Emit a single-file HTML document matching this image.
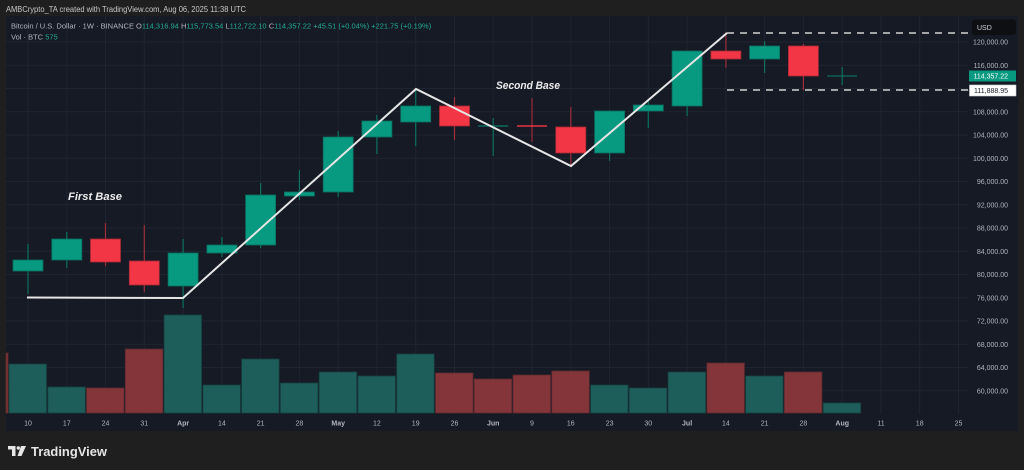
<!DOCTYPE html>
<html><head><meta charset="utf-8"><style>
html,body{margin:0;padding:0;background:#1f1f1f;}
svg{display:block;}
text{font-family:"Liberation Sans",sans-serif;}
</style></head><body>
<svg width="1024" height="470" viewBox="0 0 1024 470" xmlns="http://www.w3.org/2000/svg">
<rect x="0" y="0" width="1024" height="470" fill="#1f1f1f"/>
<text x="6" y="12" font-size="8" fill="#c8c8c8" textLength="240" lengthAdjust="spacingAndGlyphs">AMBCrypto_TA created with TradingView.com, Aug 06, 2025 11:38 UTC</text>
<rect x="6" y="16" width="1012" height="415" fill="#161a25"/>
<g stroke="#1f2431" stroke-width="1">
<line x1="6" y1="42" x2="968" y2="42"/><line x1="6" y1="65.25" x2="968" y2="65.25"/><line x1="6" y1="88.5" x2="968" y2="88.5"/><line x1="6" y1="111.75" x2="968" y2="111.75"/><line x1="6" y1="135" x2="968" y2="135"/><line x1="6" y1="158.25" x2="968" y2="158.25"/><line x1="6" y1="181.5" x2="968" y2="181.5"/><line x1="6" y1="204.75" x2="968" y2="204.75"/><line x1="6" y1="228" x2="968" y2="228"/><line x1="6" y1="251.25" x2="968" y2="251.25"/><line x1="6" y1="274.5" x2="968" y2="274.5"/><line x1="6" y1="297.75" x2="968" y2="297.75"/><line x1="6" y1="321" x2="968" y2="321"/><line x1="6" y1="344.25" x2="968" y2="344.25"/><line x1="6" y1="367.5" x2="968" y2="367.5"/><line x1="6" y1="390.75" x2="968" y2="390.75"/>
<line x1="28" y1="16" x2="28" y2="414"/><line x1="66.8" y1="16" x2="66.8" y2="414"/><line x1="105.5" y1="16" x2="105.5" y2="414"/><line x1="144.3" y1="16" x2="144.3" y2="414"/><line x1="183.1" y1="16" x2="183.1" y2="414"/><line x1="221.9" y1="16" x2="221.9" y2="414"/><line x1="260.6" y1="16" x2="260.6" y2="414"/><line x1="299.4" y1="16" x2="299.4" y2="414"/><line x1="338.2" y1="16" x2="338.2" y2="414"/><line x1="376.9" y1="16" x2="376.9" y2="414"/><line x1="415.7" y1="16" x2="415.7" y2="414"/><line x1="454.5" y1="16" x2="454.5" y2="414"/><line x1="493.2" y1="16" x2="493.2" y2="414"/><line x1="532" y1="16" x2="532" y2="414"/><line x1="570.8" y1="16" x2="570.8" y2="414"/><line x1="609.6" y1="16" x2="609.6" y2="414"/><line x1="648.3" y1="16" x2="648.3" y2="414"/><line x1="687.1" y1="16" x2="687.1" y2="414"/><line x1="725.9" y1="16" x2="725.9" y2="414"/><line x1="764.6" y1="16" x2="764.6" y2="414"/><line x1="803.4" y1="16" x2="803.4" y2="414"/><line x1="842.2" y1="16" x2="842.2" y2="414"/><line x1="881" y1="16" x2="881" y2="414"/><line x1="919.7" y1="16" x2="919.7" y2="414"/><line x1="958.5" y1="16" x2="958.5" y2="414"/>
</g>
<!-- volume -->
<g stroke-width="0.8">
<rect x="6" y="353" width="2" height="60" fill="#843539" stroke="#5c2a2e"/>
<rect x="9" y="364" width="37.5" height="49" fill="#1d5e5b" stroke="#15403f"/>
<rect x="47.8" y="387" width="37.5" height="26" fill="#1d5e5b" stroke="#15403f"/>
<rect x="86.5" y="388" width="37.5" height="25" fill="#843539" stroke="#5c2a2e"/>
<rect x="125.3" y="349" width="37.5" height="64" fill="#843539" stroke="#5c2a2e"/>
<rect x="164.1" y="315" width="37.5" height="98" fill="#1d5e5b" stroke="#15403f"/>
<rect x="202.9" y="385" width="37.5" height="28" fill="#1d5e5b" stroke="#15403f"/>
<rect x="241.6" y="359" width="37.5" height="54" fill="#1d5e5b" stroke="#15403f"/>
<rect x="280.4" y="383" width="37.5" height="30" fill="#1d5e5b" stroke="#15403f"/>
<rect x="319.2" y="372" width="37.5" height="41" fill="#1d5e5b" stroke="#15403f"/>
<rect x="357.9" y="376" width="37.5" height="37" fill="#1d5e5b" stroke="#15403f"/>
<rect x="396.7" y="354" width="37.5" height="59" fill="#1d5e5b" stroke="#15403f"/>
<rect x="435.5" y="373" width="37.5" height="40" fill="#843539" stroke="#5c2a2e"/>
<rect x="474.2" y="379" width="37.5" height="34" fill="#843539" stroke="#5c2a2e"/>
<rect x="513" y="375" width="37.5" height="38" fill="#843539" stroke="#5c2a2e"/>
<rect x="551.8" y="371" width="37.5" height="42" fill="#843539" stroke="#5c2a2e"/>
<rect x="590.6" y="385" width="37.5" height="28" fill="#1d5e5b" stroke="#15403f"/>
<rect x="629.3" y="388" width="37.5" height="25" fill="#1d5e5b" stroke="#15403f"/>
<rect x="668.1" y="372" width="37.5" height="41" fill="#1d5e5b" stroke="#15403f"/>
<rect x="706.9" y="363" width="37.5" height="50" fill="#843539" stroke="#5c2a2e"/>
<rect x="745.6" y="376" width="37.5" height="37" fill="#1d5e5b" stroke="#15403f"/>
<rect x="784.4" y="372" width="37.5" height="41" fill="#843539" stroke="#5c2a2e"/>
<rect x="823.2" y="403" width="37.5" height="10" fill="#1d5e5b" stroke="#15403f"/>
</g>
<!-- wicks -->
<g stroke-width="1.2">
<line x1="28" y1="244" x2="28" y2="294" stroke="#0c6f5f"/>
<line x1="66.8" y1="232" x2="66.8" y2="268" stroke="#0c6f5f"/>
<line x1="105.5" y1="223" x2="105.5" y2="266" stroke="#9e2d39"/>
<line x1="144.3" y1="225" x2="144.3" y2="292" stroke="#9e2d39"/>
<line x1="183.1" y1="239" x2="183.1" y2="308" stroke="#0c6f5f"/>
<line x1="221.9" y1="237" x2="221.9" y2="257" stroke="#0c6f5f"/>
<line x1="260.6" y1="183" x2="260.6" y2="248" stroke="#0c6f5f"/>
<line x1="299.4" y1="170" x2="299.4" y2="200" stroke="#0c6f5f"/>
<line x1="338.2" y1="131" x2="338.2" y2="197" stroke="#0c6f5f"/>
<line x1="376.9" y1="115" x2="376.9" y2="154" stroke="#0c6f5f"/>
<line x1="415.7" y1="88" x2="415.7" y2="146" stroke="#0c6f5f"/>
<line x1="454.5" y1="97" x2="454.5" y2="140" stroke="#9e2d39"/>
<line x1="493.2" y1="118" x2="493.2" y2="156" stroke="#0c6f5f"/>
<line x1="532" y1="98" x2="532" y2="142" stroke="#9e2d39"/>
<line x1="570.8" y1="107" x2="570.8" y2="167" stroke="#9e2d39"/>
<line x1="609.6" y1="111" x2="609.6" y2="161" stroke="#0c6f5f"/>
<line x1="648.3" y1="99" x2="648.3" y2="128" stroke="#0c6f5f"/>
<line x1="687.1" y1="51" x2="687.1" y2="116" stroke="#0c6f5f"/>
<line x1="725.9" y1="32" x2="725.9" y2="68" stroke="#9e2d39"/>
<line x1="764.6" y1="41" x2="764.6" y2="73" stroke="#0c6f5f"/>
<line x1="803.4" y1="44" x2="803.4" y2="90" stroke="#9e2d39"/>
<line x1="842.2" y1="67" x2="842.2" y2="85" stroke="#0c6f5f"/>
</g>
<!-- bodies -->
<g stroke-width="0.8">
<rect x="13" y="260" width="30" height="11" fill="#089981" stroke="#0a6f60"/>
<rect x="51.8" y="239" width="30" height="21" fill="#089981" stroke="#0a6f60"/>
<rect x="90.5" y="239" width="30" height="23" fill="#f23645" stroke="#a62b36"/>
<rect x="129.3" y="261" width="30" height="24" fill="#f23645" stroke="#a62b36"/>
<rect x="168.1" y="253" width="30" height="33" fill="#089981" stroke="#0a6f60"/>
<rect x="206.9" y="245" width="30" height="8" fill="#089981" stroke="#0a6f60"/>
<rect x="245.6" y="195" width="30" height="50" fill="#089981" stroke="#0a6f60"/>
<rect x="284.4" y="192" width="30" height="4" fill="#089981" stroke="#0a6f60"/>
<rect x="323.2" y="137" width="30" height="55" fill="#089981" stroke="#0a6f60"/>
<rect x="361.9" y="121" width="30" height="16" fill="#089981" stroke="#0a6f60"/>
<rect x="400.7" y="106" width="30" height="16" fill="#089981" stroke="#0a6f60"/>
<rect x="439.5" y="106" width="30" height="20" fill="#f23645" stroke="#a62b36"/>
<rect x="478.2" y="125.3" width="30" height="1.4" fill="#0c6f5f"/>
<rect x="517" y="125.3" width="30" height="1.4" fill="#f23645"/>
<rect x="555.8" y="127" width="30" height="26" fill="#f23645" stroke="#a62b36"/>
<rect x="594.6" y="111" width="30" height="42" fill="#089981" stroke="#0a6f60"/>
<rect x="633.3" y="105" width="30" height="6" fill="#089981" stroke="#0a6f60"/>
<rect x="672.1" y="51" width="30" height="55" fill="#089981" stroke="#0a6f60"/>
<rect x="710.9" y="51" width="30" height="8" fill="#f23645" stroke="#a62b36"/>
<rect x="749.6" y="46" width="30" height="13" fill="#089981" stroke="#0a6f60"/>
<rect x="788.4" y="46" width="30" height="30" fill="#f23645" stroke="#a62b36"/>
<rect x="827.2" y="75.4" width="30" height="1.2" fill="#0c6f5f"/>
</g>
<!-- annotations -->
<polyline points="27,297.5 183,298 416,89 571,166 727,33" fill="none" stroke="#e6e6e6" stroke-width="2" stroke-linejoin="miter"/>
<line x1="727" y1="33" x2="968" y2="33" stroke="#d2d2d2" stroke-width="1.5" stroke-dasharray="7 6"/>
<line x1="727" y1="90" x2="968" y2="90" stroke="#d2d2d2" stroke-width="1.5" stroke-dasharray="7 6"/>
<text x="68" y="200" font-size="11" font-weight="bold" font-style="italic" fill="#ececec" textLength="54" lengthAdjust="spacingAndGlyphs">First Base</text>
<text x="496" y="89" font-size="11" font-weight="bold" font-style="italic" fill="#ececec" textLength="64" lengthAdjust="spacingAndGlyphs">Second Base</text>
<!-- legend -->
<text x="11" y="28.7" font-size="7.5" fill="#b2b5be">Bitcoin / U.S. Dollar · 1W · BINANCE <tspan fill="#b2b5be">O</tspan><tspan fill="#22ab94">114,316.94 </tspan><tspan fill="#b2b5be">H</tspan><tspan fill="#22ab94">115,773.54 </tspan><tspan fill="#b2b5be">L</tspan><tspan fill="#22ab94">112,722.10 </tspan><tspan fill="#b2b5be">C</tspan><tspan fill="#22ab94">114,357.22 +45.51 (+0.04%) +221.75 (+0.19%)</tspan></text>
<text x="11" y="39.7" font-size="7.5" fill="#b2b5be">Vol · BTC <tspan fill="#22ab94">575</tspan></text>
<!-- price axis -->
<g font-size="7" fill="#b2b5be" text-anchor="end">
<text x="1008" y="44.5">120,000.00</text><text x="1008" y="67.8">116,000.00</text><text x="1008" y="114.3">108,000.00</text><text x="1008" y="137.5">104,000.00</text><text x="1008" y="160.8">100,000.00</text><text x="1008" y="184">96,000.00</text><text x="1008" y="207.3">92,000.00</text><text x="1008" y="230.5">88,000.00</text><text x="1008" y="253.8">84,000.00</text><text x="1008" y="277">80,000.00</text><text x="1008" y="300.3">76,000.00</text><text x="1008" y="323.5">72,000.00</text><text x="1008" y="346.8">68,000.00</text><text x="1008" y="370">64,000.00</text><text x="1008" y="393.3">60,000.00</text>
</g>
<rect x="972" y="19.5" width="44" height="15.5" rx="3" fill="#0e0f13"/>
<text x="977" y="30" font-size="7" fill="#d1d4dc">USD</text>
<rect x="969" y="70.5" width="47" height="11" fill="#089981"/>
<text x="1008" y="78.6" font-size="7" fill="#ffffff" text-anchor="end">114,357.22</text>
<rect x="969.5" y="85" width="46.5" height="11" fill="#ffffff" stroke="#cfcfcf" stroke-width="0.6"/>
<text x="1008" y="93.1" font-size="7" fill="#131722" text-anchor="end">111,888.95</text>
<!-- time axis -->
<g font-size="7" fill="#b2b5be" text-anchor="middle">
<text x="28" y="425.5">10</text><text x="66.8" y="425.5">17</text><text x="105.5" y="425.5">24</text><text x="144.3" y="425.5">31</text><text x="183.1" y="425.5" font-weight="bold">Apr</text><text x="221.9" y="425.5">14</text><text x="260.6" y="425.5">21</text><text x="299.4" y="425.5">28</text><text x="338.2" y="425.5" font-weight="bold">May</text><text x="376.9" y="425.5">12</text><text x="415.7" y="425.5">19</text><text x="454.5" y="425.5">26</text><text x="493.2" y="425.5" font-weight="bold">Jun</text><text x="532" y="425.5">9</text><text x="570.8" y="425.5">16</text><text x="609.6" y="425.5">23</text><text x="648.3" y="425.5">30</text><text x="687.1" y="425.5" font-weight="bold">Jul</text><text x="725.9" y="425.5">14</text><text x="764.6" y="425.5">21</text><text x="803.4" y="425.5">28</text><text x="842.2" y="425.5" font-weight="bold">Aug</text><text x="881" y="425.5">11</text><text x="919.7" y="425.5">18</text><text x="958.5" y="425.5">25</text>
</g>
<!-- TradingView logo -->
<g fill="#e6e6e6">
<path d="M8 446 H15.5 V456 H12 V449.5 H8 Z"/>
<circle cx="18.3" cy="448" r="1.7"/>
<path d="M21 446 H26 L21.5 456 H17.5 Z"/>
</g>
<text x="31" y="456" font-size="13" font-weight="bold" fill="#e6e6e6" textLength="76" lengthAdjust="spacingAndGlyphs">TradingView</text>
</svg>
</body></html>
